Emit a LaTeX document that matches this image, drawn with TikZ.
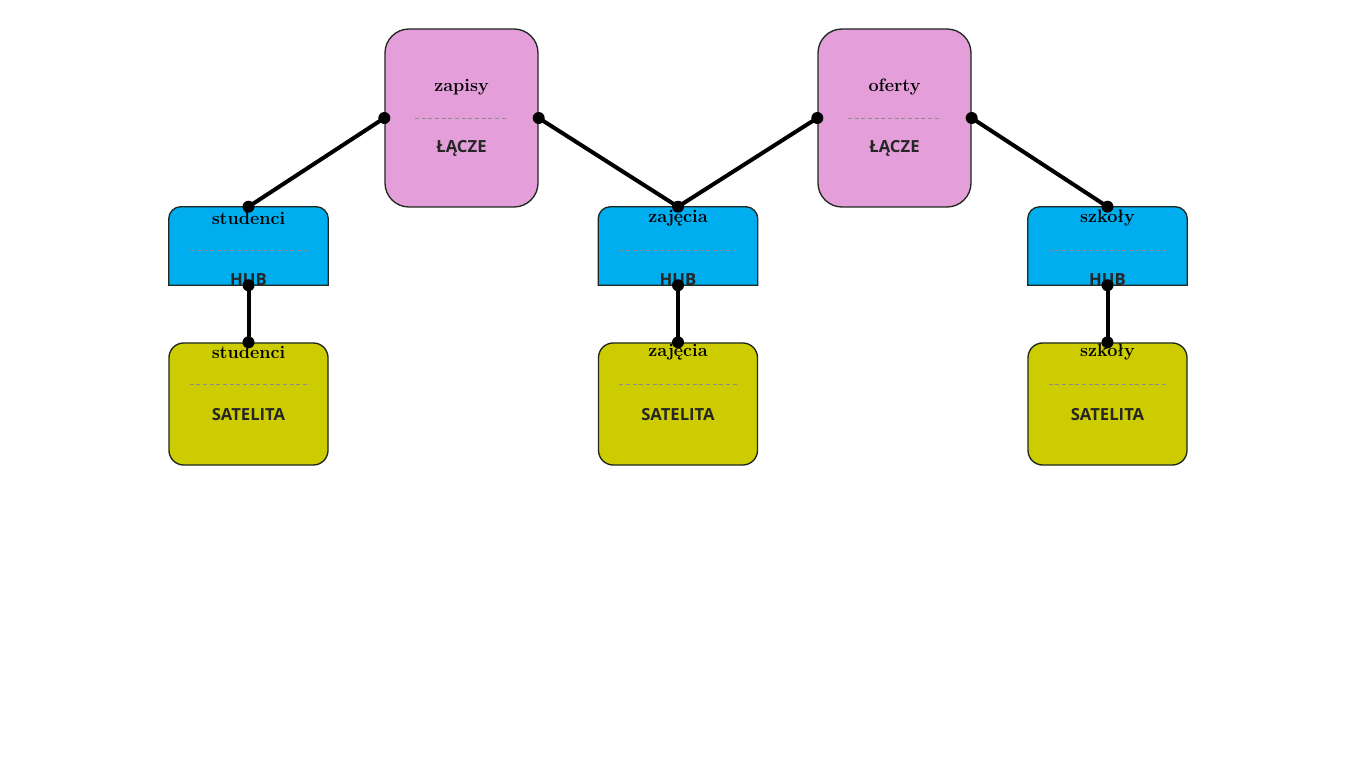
\documentclass[tikz,border=0pt]{standalone}
\usepackage{fontspec}
\newfontfamily\labelfont{Open Sans}
\definecolor{linkpink}{HTML}{E49FDA}
\definecolor{hubblue}{HTML}{00AEEF}
\definecolor{satyellow}{HTML}{CCCC00}
\tikzset{
  box/.style={inner sep=0pt, line width=1pt, draw={rgb,255:red,30;green,40;blue,30}},
  linkbox/.style={box, fill=linkpink, rounded corners=18pt, minimum width=114.75pt, minimum height=133.5pt},
  hubbox/.style={inner sep=0pt, minimum width=119.25pt, minimum height=58.5pt},
  satbox/.style={box, fill=satyellow, rounded corners=11pt, minimum width=119.25pt, minimum height=91.5pt},
  title/.style={font=\fontsize{13.5}{15}\selectfont\rmfamily\bfseries},
  kind/.style={font=\fontsize{12.5}{14}\selectfont\labelfont\bfseries, text=black!85},
  sep/.style={densely dashed, line width=0.3pt, draw=black!45},
  conn/.style={line width=3pt},
  dot/.style={circle, fill=black, inner sep=0pt, minimum size=9pt}
}
\begin{document}
\begin{tikzpicture}[x=0.75pt,y=0.75pt,yscale=-1,xscale=1]
\path[fill=white] (0,0) rectangle (1357,784);

%Link boxes
\node[linkbox] (zapisy) at (461.5,118) {};
\node[linkbox] (oferty) at (894.5,118) {};
%Hub boxes
\foreach \n/\x in {studenci/248.5,zajecia/678,szkoly/1107.5}{
  \node[hubbox] (\n) at (\x,246) {};
  \draw[box, fill=hubblue] (\n.south west) [rounded corners=9pt] -- (\n.north west) -- (\n.north east) [sharp corners] -- (\n.south east) -- cycle;
}
%Satellite boxes
\node[satbox] (studentsat) at (248.5,404) {};
\node[satbox] (zajeciasat) at (678,404) {};
\node[satbox] (szkolysat) at (1107.5,404) {};

%Separators and texts
\foreach \n/\t in {zapisy/zapisy,oferty/oferty}{
  \draw[sep] ([xshift=23]\n.west) -- ([xshift=-23]\n.east);
  \node[title] at ([yshift=-23]\n.center) {\t};
  \node[kind] at ([yshift=23]\n.center) {ŁĄCZE};
}
\foreach \n/\t in {studenci/studenci,zajecia/zajęcia,szkoly/szkoły}{
  \draw[sep] ([xshift=16,yshift=3]\n.west) -- ([xshift=-16,yshift=3]\n.east);
  \node[title] at ([yshift=-21]\n.center) {\t};
  \node[kind] at ([yshift=25]\n.center) {HUB};
}
\foreach \n/\t in {studentsat/studenci,zajeciasat/zajęcia,szkolysat/szkoły}{
  \draw[sep] ([xshift=16,yshift=-15]\n.west) -- ([xshift=-16,yshift=-15]\n.east);
  \node[title] at ([yshift=-39]\n.center) {\t};
  \node[kind] at ([yshift=8]\n.center) {SATELITA};
}

%Connectors
\draw[conn] (zapisy.west) -- (studenci.north);
\draw[conn] (zapisy.east) -- (zajecia.north);
\draw[conn] (oferty.west) -- (zajecia.north);
\draw[conn] (oferty.east) -- (szkoly.north);
\draw[conn] (studenci.south) -- (studentsat.north);
\draw[conn] (zajecia.south) -- (zajeciasat.north);
\draw[conn] (szkoly.south) -- (szkolysat.north);
\foreach \p in {zapisy.west,zapisy.east,oferty.west,oferty.east,studenci.north,zajecia.north,szkoly.north,studenci.south,zajecia.south,szkoly.south,studentsat.north,zajeciasat.north,szkolysat.north}
  \node[dot] at (\p) {};
\end{tikzpicture}
\end{document}
